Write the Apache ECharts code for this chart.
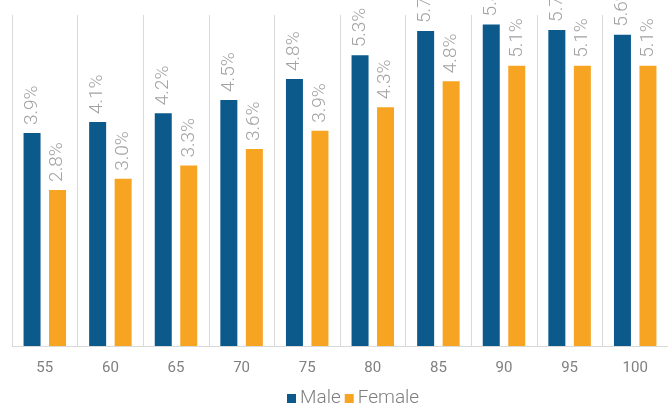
<!DOCTYPE html>
<html>
<head>
<meta charset="utf-8">
<script src="https://cdn.jsdelivr.net/npm/echarts@6/dist/echarts.min.js"></script>
<style>
  html, body { margin: 0; padding: 0; background: #fff; }
  #chart { width: 668px; height: 407px; }
</style>
</head>
<body>
<div id="chart"></div>
<script>
var ages = ['55', '60', '65', '70', '75', '80', '85', '90', '95', '100'];
var maleValues = [3.86, 4.06, 4.22, 4.46, 4.84, 5.27, 5.71, 5.83, 5.73, 5.64];
var femaleValues = [2.83, 3.03, 3.27, 3.57, 3.9, 4.33, 4.8, 5.08, 5.08, 5.08];
var seriesNames = ['Male', 'Female'];
var colors = ['#0b5a8b', '#f7a423'];

var labelCfg = {
  show: true,
  position: 'top',
  rotate: 90,
  align: 'left',
  verticalAlign: 'middle',
  distance: 8,
  color: '#a3a3a3',
  fontFamily: 'Roboto',
  fontWeight: 300,
  fontSize: 19,
  formatter: function (p) {
    return p.value.toFixed(1) + '%';
  }
};

var chart = echarts.init(document.getElementById('chart'));
chart.setOption({
  animation: false,
  color: colors,
  grid: { left: 12, right: -4, top: 15, bottom: 61 },
  legend: {
    data: seriesNames,
    top: 384,
    left: 282,
    itemWidth: 9,
    itemHeight: 9,
    itemGap: 4,
    icon: 'rect',
    textStyle: { color: '#7f7f7f', fontFamily: 'Roboto', fontWeight: 300, fontSize: 19, padding: [0, 0, 0, -1] }
  },
  xAxis: {
    type: 'category',
    data: ages,
    axisLine: { lineStyle: { color: '#d9d9d9', width: 1 } },
    axisTick: { show: false },
    splitLine: { show: true, lineStyle: { color: '#d9d9d9', width: 1 } },
    axisLabel: { color: '#808080', fontFamily: 'Roboto', fontSize: 15, margin: 15 }
  },
  yAxis: {
    type: 'value',
    min: 0,
    max: 6,
    show: false
  },
  series: [
    {
      name: seriesNames[0],
      type: 'bar',
      data: maleValues,
      barWidth: 17,
      barGap: '50%',
      label: labelCfg
    },
    {
      name: seriesNames[1],
      type: 'bar',
      data: femaleValues,
      barWidth: 17,
      barGap: '50%',
      label: labelCfg
    }
  ]
});
</script>
</body>
</html>
